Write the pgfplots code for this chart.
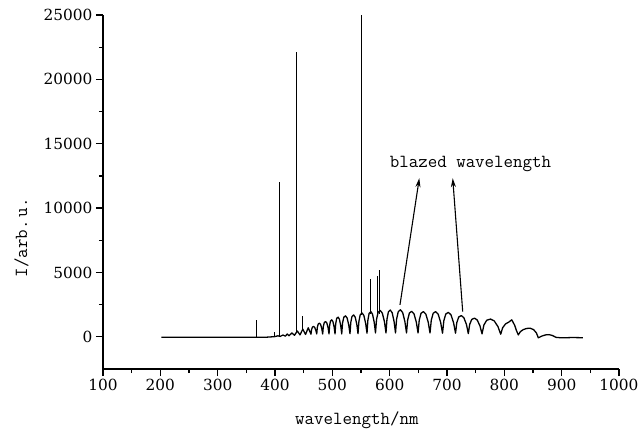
\documentclass[border=0pt]{standalone}
\usepackage{fontspec}
\usepackage{pgfplots}
\pgfplotsset{compat=1.18}
\usetikzlibrary{arrows.meta}
\newfontfamily\tickfont{DejaVu Serif}
\newcommand\lblfont{\fontsize{18.5}{20}\selectfont\ttfamily\addfontfeature{FakeBold=0.8}}
\begin{document}
\begin{tikzpicture}
\begin{axis}[
  scale only axis, width=516bp, height=354bp,
  xmin=100, xmax=1000, ymin=-2500, ymax=25000,
  axis x line*=bottom, axis y line*=left,
  axis line style={line width=1.5bp, black},
  tick align=outside,
  major tick length=7bp, minor tick length=4bp,
  every tick/.style={black, line width=1.2bp},
  scaled x ticks=false, scaled y ticks=false,
  xtick={100,200,...,1000},
  xticklabels={100,200,300,400,500,600,700,800,900,1000},
  ytick={0,5000,10000,15000,20000,25000},
  yticklabels={0,5000,10000,15000,20000,25000},
  minor x tick num=1, minor y tick num=1,
  tick label style={font=\tickfont\fontsize{15.4}{16}\selectfont},
  /pgf/number format/assume math mode=true,
  xlabel={wavelength/nm}, ylabel={I/arb.\,u.},
  label style={font=\lblfont},
  xlabel style={at={(axis description cs:0.492,-0.144)}, anchor=center},
  ylabel style={at={(axis description cs:-0.158,0.371)}, anchor=center},
]
% continuous spectrum with blaze ripples
\addplot[black, line width=1.3bp, line join=round] coordinates {
(202,-40)(300,-40)(385,-30)(395,0)(400,20)(405,80)(409,30)(414,140)(418,50)(421.5,220)
(424.4,80)(429.5,300)(434,120)(439,450)(443.6,150)(448.5,600)(453.2,180)(458,700)
(462.8,200)(463.8,560)(465.3,752)(467.3,800)(469.3,728)(471.3,500)
(472.8,220)(473.8,724)(475.4,993)(477.5,1060)(479.6,959)(481.6,640)
(483.2,220)(484.3,802)(486.0,1112)(488.2,1190)(490.4,1074)(492.6,705)
(494.2,230)(495.3,884)(496.8,1233)(498.9,1320)(501.0,1189)(503.1,775)
(504.7,230)(505.9,1010)(507.6,1426)(510.0,1530)(512.3,1374)(514.6,880)
(516.4,230)(517.8,1070)(520.0,1518)(522.9,1630)(525.8,1462)(528.6,930)
(530.8,250)(532.2,1120)(534.3,1584)(537.1,1700)(539.9,1526)(542.7,975)
(544.8,250)(546.4,1210)(548.7,1722)(551.9,1850)(555.0,1658)(558.1,1050)
(560.5,280)(562.0,1288)(564.2,1826)(567.2,1960)(570.1,1758)(573.1,1120)
(575.3,300)(577.1,1350)(579.9,1910)(583.5,2050)(587.2,1840)(590.9,1175)
(593.6,300)(595.3,1368)(597.8,1938)(601.1,2080)(604.4,1866)(607.7,1190)
(610.2,300)(612.1,1380)(615.0,1956)(618.8,2100)(622.7,1884)(626.5,1200)
(629.4,300)(631.4,1308)(634.4,1846)(638.4,1980)(642.5,1778)(646.5,1140)
(649.5,300)(651.6,1296)(654.7,1827)(658.9,1960)(663.1,1761)(667.3,1130)
(670.4,300)(672.6,1296)(675.9,1827)(680.2,1960)(684.6,1761)(688.9,1130)
(692.2,280)(694.5,1252)(697.9,1770)(702.4,1900)(707.0,1706)(711.5,1090)
(714.9,280)(717.1,1102)(720.5,1540)(724.9,1650)(729.4,1486)(733.9,965)
(737.2,250)(739.6,970)(743.2,1354)(748.0,1450)(752.7,1306)(757.5,850)
(761.1,230)(764.4,920)(769.3,1288)(775.8,1380)(782.3,1242)(788.8,805)
(793.7,200)(797,700)(802,1000)(808,1150)(813,1320)(818,900)(821,500)
(824.4,150)(828,400)(833,560)(839,650)(845,670)(851,560)(856,300)
(859.3,-80)(865,50)(872,150)(878,170)(884,100)(890,-40)(900,-80)(915,-60)(925,-60)(937,-70)
};
% atomic emission lines
\addplot[black, line width=0.9bp, unbounded coords=jump] coordinates {
(367,-40)(367,1320)(367,nan)
(399.5,20)(399.5,350)(399.5,nan)
(407,40)(407,12000)(407,nan)
(438,300)(438,22100)(438,nan)
(448.3,500)(448.3,1580)(448.3,nan)
(551,1700)(551,25000)(551,nan)
(567,1800)(567,4480)(567,nan)
(579.5,1800)(579.5,4700)(579.5,nan)
(582.5,1800)(582.5,5200)
};
\node[font=\lblfont] at (axis cs:741,13432) {blazed wavelength};
\draw[-{Stealth[length=9bp,width=5bp]}, line width=1.1bp] (axis cs:618,2484) -- (axis cs:651.7,12321);
\draw[-{Stealth[length=9bp,width=5bp]}, line width=1.1bp] (axis cs:727.4,1964) -- (axis cs:710,12321);
\end{axis}
\pgfresetboundingbox
\path (current axis.south west) ++(-103bp,-62bp) rectangle ++(642bp,431bp);
\end{tikzpicture}
\end{document}
